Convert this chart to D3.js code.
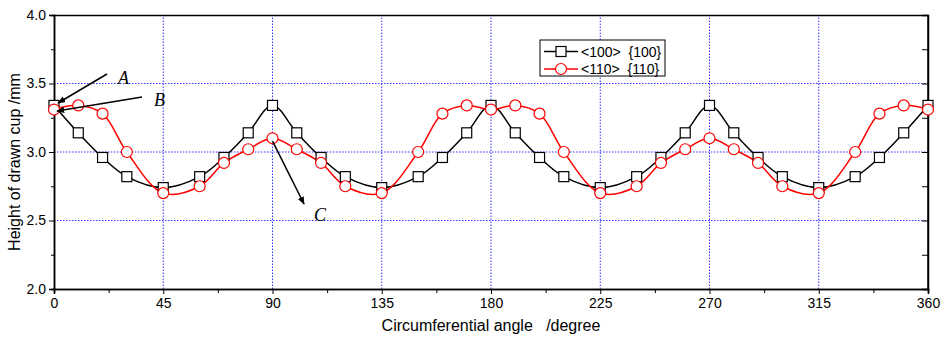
<!DOCTYPE html>
<html>
<head>
<meta charset="utf-8">
<script src="https://cdn.jsdelivr.net/npm/d3@7"></script>
<style>
  body { margin: 0; background: #fff; }
  text { font-family: "Liberation Sans", Arial, sans-serif; white-space: pre; }
  text.note { font-family: "Liberation Serif", "Times New Roman", serif; font-style: italic; }
</style>
</head>
<body>
<div id="chart"></div>
<script>
// data
var angles = [0, 10, 20, 30, 45, 60, 70, 80, 90, 100, 110, 120, 135, 150, 160, 170, 180,
              190, 200, 210, 225, 240, 250, 260, 270, 280, 290, 300, 315, 330, 340, 350, 360];
var h100 = [3.34, 3.14, 2.96, 2.82, 2.74, 2.82, 2.96, 3.14, 3.34, 3.14, 2.96, 2.82, 2.74, 2.82, 2.96, 3.14, 3.34,
            3.14, 2.96, 2.82, 2.74, 2.82, 2.96, 3.14, 3.34, 3.14, 2.96, 2.82, 2.74, 2.82, 2.96, 3.14, 3.34];
var h110 = [3.31, 3.34, 3.28, 3.00, 2.70, 2.75, 2.92, 3.02, 3.10, 3.02, 2.92, 2.75, 2.70, 3.00, 3.28, 3.34, 3.31,
            3.34, 3.28, 3.00, 2.70, 2.75, 2.92, 3.02, 3.10, 3.02, 2.92, 2.75, 2.70, 3.00, 3.28, 3.34, 3.31];
var xTicks = [0, 45, 90, 135, 180, 225, 270, 315, 360];
var yTicks = [2.0, 2.5, 3.0, 3.5, 4.0];
var seriesNames = ["<100>  {100}", "<110>  {110}"];

var width = 942, height = 337;
var margin = {top: 15, right: 14, bottom: 48, left: 54};

var svg = d3.select("#chart").append("svg")
    .attr("width", width)
    .attr("height", height);

var x = d3.scaleLinear().domain([0, 360]).range([margin.left, width - margin.right]);
var y = d3.scaleLinear().domain([2, 4]).range([height - margin.bottom, margin.top]);

// grid
var grid = svg.append("g").attr("stroke", "#3333ff").attr("stroke-width", 1)
    .attr("stroke-dasharray", "1.5,1.5");
grid.selectAll(".gx").data(xTicks.slice(1, -1)).enter().append("line")
    .attr("x1", d => x(d)).attr("x2", d => x(d))
    .attr("y1", y(2)).attr("y2", y(4));
grid.selectAll(".gy").data([2.5, 3.0, 3.5]).enter().append("line")
    .attr("x1", x(0)).attr("x2", x(360))
    .attr("y1", d => y(d)).attr("y2", d => y(d));

// axes
svg.append("g").attr("transform", "translate(0," + y(2) + ")")
    .call(d3.axisBottom(x).tickValues(xTicks).tickSize(5).tickPadding(4).tickFormat(d3.format("d")));
svg.append("g").attr("transform", "translate(0," + y(2) + ")")
    .call(d3.axisBottom(x).tickValues(d3.range(22.5, 360, 45)).tickSize(4).tickFormat(""));
svg.append("g").attr("transform", "translate(" + x(0) + ",0)")
    .call(d3.axisLeft(y).tickValues(yTicks).tickSize(5).tickPadding(3).tickFormat(d3.format(".1f")));
svg.append("g").attr("transform", "translate(" + x(0) + ",0)")
    .call(d3.axisLeft(y).tickValues([2.25, 2.75, 3.25, 3.75]).tickSize(3).tickFormat(""));
svg.append("g").attr("transform", "translate(" + x(360) + ",0)")
    .call(d3.axisLeft(y).tickValues(d3.range(2.25, 4, 0.25)).tickSize(6).tickFormat(""));
svg.append("g").attr("transform", "translate(0," + y(4) + ")")
    .call(d3.axisBottom(x).tickValues([]).tickSizeOuter(0));
svg.append("line").attr("x1", x(360)).attr("x2", x(360)).attr("y1", y(4)).attr("y2", y(2))
    .attr("stroke", "#000").attr("stroke-width", 1.5);

svg.selectAll(".domain").attr("stroke", "#000").attr("stroke-width", 1.5);
svg.selectAll(".tick line").attr("stroke", "#000").attr("stroke-width", 1);
svg.selectAll(".tick text").attr("font-size", 14).attr("fill", "#000");

// axis titles
svg.append("text").attr("x", x(180)).attr("y", 331).attr("text-anchor", "middle")
    .attr("font-size", 16).text("Circumferential angle   /degree");
svg.append("text").attr("transform", "translate(20,162) rotate(-90)")
    .attr("text-anchor", "middle").attr("font-size", 16).text("Height of drawn cup /mm");

// series
var line = d3.line().curve(d3.curveCatmullRom.alpha(0.5))
    .x(d => x(d[0])).y(d => y(d[1]));
var s1 = angles.map((a, i) => [a, h100[i]]);
var s2 = angles.map((a, i) => [a, h110[i]]);

svg.append("path").datum(s1).attr("d", line).attr("fill", "none")
    .attr("stroke", "#000").attr("stroke-width", 1.5);
svg.append("path").datum(s2).attr("d", line).attr("fill", "none")
    .attr("stroke", "#ff0000").attr("stroke-width", 1.5);

svg.selectAll(".sq").data(s1).enter().append("rect")
    .attr("x", d => x(d[0]) - 5).attr("y", d => y(d[1]) - 5)
    .attr("width", 10).attr("height", 10)
    .attr("fill", "#fff").attr("stroke", "#000").attr("stroke-width", 1.2);
svg.selectAll(".ci").data(s2).enter().append("circle")
    .attr("cx", d => x(d[0])).attr("cy", d => y(d[1])).attr("r", 5.5)
    .attr("fill", "#fff").attr("stroke", "#ff0000").attr("stroke-width", 1.2);

// legend
var lg = svg.append("g").attr("transform", "translate(540,40)");
lg.append("rect").attr("width", 125).attr("height", 36)
    .attr("fill", "#fff").attr("stroke", "#000").attr("stroke-width", 1);
[0, 1].forEach(function (i) {
  var cy = 11.5 + i * 17.5;
  var col = i == 0 ? "#000" : "#ff0000";
  lg.append("line").attr("x1", 4).attr("x2", 38).attr("y1", cy).attr("y2", cy)
      .attr("stroke", col).attr("stroke-width", 1.5);
  if (i == 0) {
    lg.append("rect").attr("x", 16).attr("y", cy - 5).attr("width", 10).attr("height", 10)
        .attr("fill", "#fff").attr("stroke", "#000").attr("stroke-width", 1.2);
  } else {
    lg.append("circle").attr("cx", 21).attr("cy", cy).attr("r", 5.5)
        .attr("fill", "#fff").attr("stroke", "#ff0000").attr("stroke-width", 1.2);
  }
  lg.append("text").attr("x", 41).attr("y", cy + 5).attr("font-size", 14)
      .text(seriesNames[i]);
});

// annotation arrows
var defs = svg.append("defs");
defs.append("marker").attr("id", "ah").attr("viewBox", "0 0 10 10")
    .attr("refX", 9).attr("refY", 5).attr("markerWidth", 8).attr("markerHeight", 8)
    .attr("orient", "auto").attr("markerUnits", "userSpaceOnUse")
    .append("path").attr("d", "M0,1 L10,5 L0,9 Z").attr("fill", "#000");

var arrows = [
  {x1: 107, y1: 74, x2: 58, y2: 103, label: "A", lx: 118, ly: 84},
  {x1: 142, y1: 97, x2: 57, y2: 111, label: "B", lx: 154, ly: 106},
  {x1: x(90), y1: y(3.08), x2: 304, y2: 204, label: "C", lx: 314, ly: 221}
];
arrows.forEach(function (a) {
  svg.append("line").attr("x1", a.x1).attr("y1", a.y1).attr("x2", a.x2).attr("y2", a.y2)
      .attr("stroke", "#000").attr("stroke-width", 1.5).attr("marker-end", "url(#ah)");
  svg.append("text").attr("class", "note").attr("x", a.lx).attr("y", a.ly)
      .attr("font-size", 18).text(a.label);
});
</script>
</body>
</html>
